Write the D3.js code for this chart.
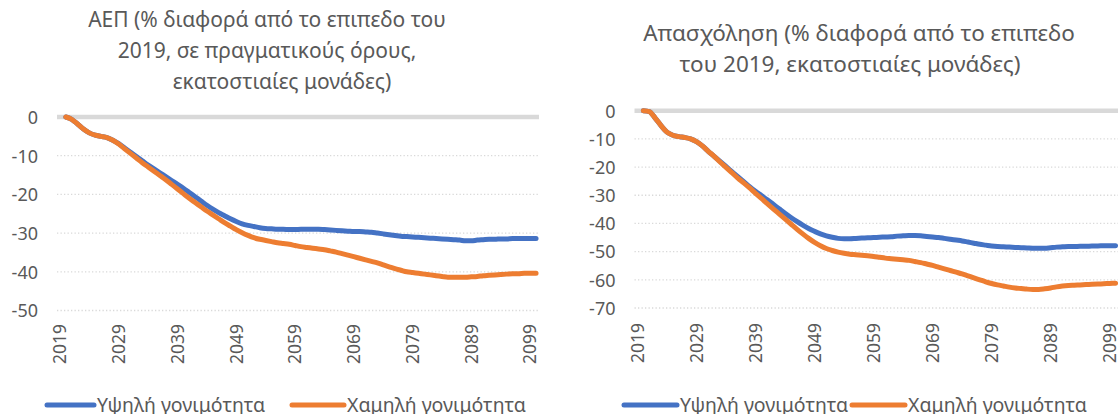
<!DOCTYPE html>
<html>
<head>
<meta charset="utf-8">
<script src="https://cdn.jsdelivr.net/npm/d3@7"></script>
<style>
  html, body { margin: 0; padding: 0; background: #fff; }
  svg { display: block; }
  text { font-family: "Noto Sans", "Open Sans", sans-serif; fill: #595959; }
</style>
</head>
<body>
<svg id="chart" width="1118" height="414"></svg>
<script>
// Category years on the horizontal axis (2019 has no value; series begin in 2020)
const years = d3.range(2019, 2101);
const xTickLabels = ["2019", "2029", "2039", "2049", "2059", "2069", "2079", "2089", "2099"];
const seriesNames = ["Υψηλή γονιμότητα", "Χαμηλή γονιμότητα"];

// GDP, % difference from 2019 level (2020 ... 2100)
const gdpHigh = [
  0, -0.6, -1.8, -3.1, -4.1, -4.7, -5.0, -5.3, -6.0, -6.9,
  -8.0, -9.1, -10.2, -11.3, -12.4, -13.4, -14.4, -15.4, -16.4, -17.4,
  -18.4, -19.5, -20.6, -21.7, -22.8, -23.8, -24.7, -25.5, -26.3, -27.0,
  -27.6, -28.0, -28.3, -28.6, -28.8, -28.9, -29.0, -29.0, -29.1, -29.1,
  -29.0, -29.0, -29.0, -29.0, -29.1, -29.2, -29.3, -29.4, -29.5, -29.6,
  -29.6, -29.7, -29.8, -30.0, -30.2, -30.4, -30.6, -30.8, -30.9, -31.0,
  -31.1, -31.2, -31.3, -31.4, -31.5, -31.6, -31.7, -31.8, -32.0, -32.0,
  -31.8, -31.7, -31.6, -31.6, -31.5, -31.5, -31.4, -31.4, -31.4, -31.4,
  -31.4
];
const gdpLow = [
  0, -0.6, -1.8, -3.1, -4.1, -4.7, -5.0, -5.3, -6.0, -7.0,
  -8.2, -9.4, -10.6, -11.8, -12.9, -14.0, -15.1, -16.2, -17.4, -18.6,
  -19.8, -21.0, -22.1, -23.2, -24.3, -25.3, -26.3, -27.3, -28.2, -29.1,
  -29.9, -30.6, -31.2, -31.6, -31.9, -32.2, -32.5, -32.7, -32.9, -33.2,
  -33.5, -33.7, -33.9, -34.1, -34.3, -34.6, -34.9, -35.3, -35.7, -36.1,
  -36.5, -36.9, -37.3, -37.7, -38.2, -38.7, -39.2, -39.6, -40.0, -40.2,
  -40.4, -40.6, -40.8, -41.0, -41.2, -41.4, -41.4, -41.4, -41.4, -41.3,
  -41.2, -41.0, -40.9, -40.8, -40.7, -40.6, -40.5, -40.5, -40.4, -40.4,
  -40.4
];

// Employment, % difference from 2019 level (2020 ... 2100)
const empHigh = [
  0, -0.3, -2.6, -5.3, -7.6, -8.7, -9.2, -9.5, -10.0, -11.0,
  -12.5, -14.4, -16.2, -18.0, -19.8, -21.6, -23.4, -25.2, -27.0, -28.6,
  -30.1, -31.6, -33.2, -34.8, -36.4, -37.9, -39.3, -40.6, -41.8, -42.8,
  -43.7, -44.4, -44.9, -45.3, -45.4, -45.4, -45.3, -45.2, -45.1, -45.0,
  -44.9, -44.8, -44.7, -44.5, -44.4, -44.3, -44.3, -44.4, -44.6, -44.8,
  -45.0, -45.3, -45.6, -45.9, -46.2, -46.6, -47.0, -47.4, -47.7, -48.0,
  -48.2, -48.3, -48.4, -48.5, -48.6, -48.7, -48.8, -48.8, -48.8, -48.6,
  -48.4, -48.3, -48.2, -48.2, -48.1, -48.1, -48.0, -48.0, -47.9, -47.9,
  -47.9
];
const empLow = [
  0, -0.3, -2.6, -5.3, -7.6, -8.7, -9.2, -9.5, -10.0, -11.0,
  -12.5, -14.4, -16.2, -18.2, -20.1, -22.0, -23.9, -25.6, -27.4, -29.3,
  -31.1, -33.0, -34.8, -36.6, -38.4, -40.2, -42.0, -43.7, -45.3, -46.7,
  -47.9, -48.9, -49.6, -50.2, -50.6, -50.9, -51.1, -51.3, -51.5, -51.7,
  -52.0, -52.3, -52.5, -52.7, -52.9, -53.1, -53.5, -53.9, -54.4, -54.9,
  -55.5, -56.1, -56.7, -57.3, -57.9, -58.6, -59.3, -60.0, -60.7, -61.3,
  -61.8, -62.2, -62.6, -62.9, -63.1, -63.3, -63.4, -63.4, -63.2, -62.9,
  -62.5, -62.2, -62.0, -61.9, -61.8, -61.7, -61.6, -61.5, -61.4, -61.3,
  -61.2
];

const gdpTicks = [0, -10, -20, -30, -40, -50];
const empTicks = [0, -10, -20, -30, -40, -50, -60, -70];

const gdpTitle = ["ΑΕΠ (% διαφορά από το επιπεδο του", "2019, σε πραγματικούς όρους,", "εκατοστιαίες μονάδες)"];
const empTitle = ["Απασχόληση (% διαφορά από το επιπεδο", "του 2019, εκατοστιαίες μονάδες)"];

const colors = ["#4472C4", "#ED7D31"];
const svg = d3.select("#chart");

function drawPanel(cfg) {
  const g = svg.append("g");

  const x = d3.scaleBand().domain(years).range([cfg.left, cfg.right]);
  const xc = yr => x(yr) + x.bandwidth() / 2;
  const y = d3.scaleLinear().domain([0, cfg.min]).range([cfg.top, cfg.bottom]);

  // title
  cfg.title.forEach((line, i) => {
    g.append("text")
      .attr("x", cfg.titleX[i])
      .attr("y", cfg.titleY + i * cfg.titleGap)
      .attr("text-anchor", "middle")
      .style("font-size", cfg.titleSize + "px")
      .text(line);
  });

  // dotted horizontal gridlines
  g.append("g").selectAll("line")
    .data(cfg.ticks.filter(t => t !== 0))
    .join("line")
    .attr("x1", cfg.left).attr("x2", cfg.right)
    .attr("y1", d => y(d)).attr("y2", d => y(d))
    .attr("stroke", "#D9D9D9")
    .attr("stroke-width", 1.3)
    .attr("stroke-dasharray", "1.3,2.2");

  // value axis labels (plain hyphen for negatives)
  const yAxis = d3.axisLeft(y).tickValues(cfg.ticks).tickSize(0).tickPadding(0).tickFormat(d => String(d));
  const ya = g.append("g").attr("transform", `translate(${cfg.left - 19},0)`).call(yAxis);
  ya.select(".domain").remove();
  ya.selectAll("text").style("font-size", "18px").attr("fill", "#595959").attr("dy", "0.35em");

  // category axis line at zero
  g.append("line")
    .attr("x1", cfg.left).attr("x2", cfg.right)
    .attr("y1", y(0)).attr("y2", y(0))
    .attr("stroke", "#D9D9D9").attr("stroke-width", 4.5);

  // category labels, rotated
  const xAxis = d3.axisBottom(x).tickValues(xTickLabels.map(Number)).tickSize(0).tickPadding(0);
  const xa = g.append("g").attr("transform", `translate(0,${cfg.labelY})`).call(xAxis);
  xa.select(".domain").remove();
  xa.selectAll("text")
    .style("font-size", "17.5px")
    .attr("fill", "#595959")
    .attr("transform", "rotate(-90)")
    .attr("text-anchor", "end")
    .attr("x", 0).attr("y", 0).attr("dy", "0.36em");

  // series lines
  const line = d3.line()
    .defined(d => d.v != null)
    .x(d => xc(d.year))
    .y(d => y(d.v))
    .curve(d3.curveMonotoneX);

  cfg.series.forEach((vals, i) => {
    const pts = vals.map((v, k) => ({ year: 2020 + k, v }));
    g.append("path")
      .datum(pts)
      .attr("fill", "none")
      .attr("stroke", colors[i])
      .attr("stroke-width", 5)
      .attr("stroke-linecap", "round")
      .attr("stroke-linejoin", "round")
      .attr("d", line);
  });

  // legend
  cfg.legend.forEach((lg, i) => {
    g.append("line")
      .attr("x1", lg.x1).attr("x2", lg.x2)
      .attr("y1", cfg.legendY).attr("y2", cfg.legendY)
      .attr("stroke", colors[i]).attr("stroke-width", 5)
      .attr("stroke-linecap", "round");
    g.append("text")
      .attr("x", lg.x2 + 3)
      .attr("y", cfg.legendY)
      .attr("dy", "0.34em")
      .style("font-size", "19.5px")
      .text(seriesNames[i]);
  });
}

drawPanel({
  left: 57, right: 539, top: 117, bottom: 310.5, min: -50,
  ticks: gdpTicks, series: [gdpHigh, gdpLow],
  title: gdpTitle, titleX: [267, 267, 282], titleY: 27, titleGap: 31, titleSize: 21,
  labelY: 324, legendY: 405,
  legend: [{ x1: 47, x2: 94 }, { x1: 292, x2: 344 }]
});

drawPanel({
  left: 634.5, right: 1118.5, top: 110.7, bottom: 308, min: -70,
  ticks: empTicks, series: [empHigh, empLow],
  title: empTitle, titleX: [859, 850], titleY: 41, titleGap: 31, titleSize: 22.5,
  labelY: 323, legendY: 405,
  legend: [{ x1: 624, x2: 677 }, { x1: 852, x2: 905 }]
});
</script>
</body>
</html>
